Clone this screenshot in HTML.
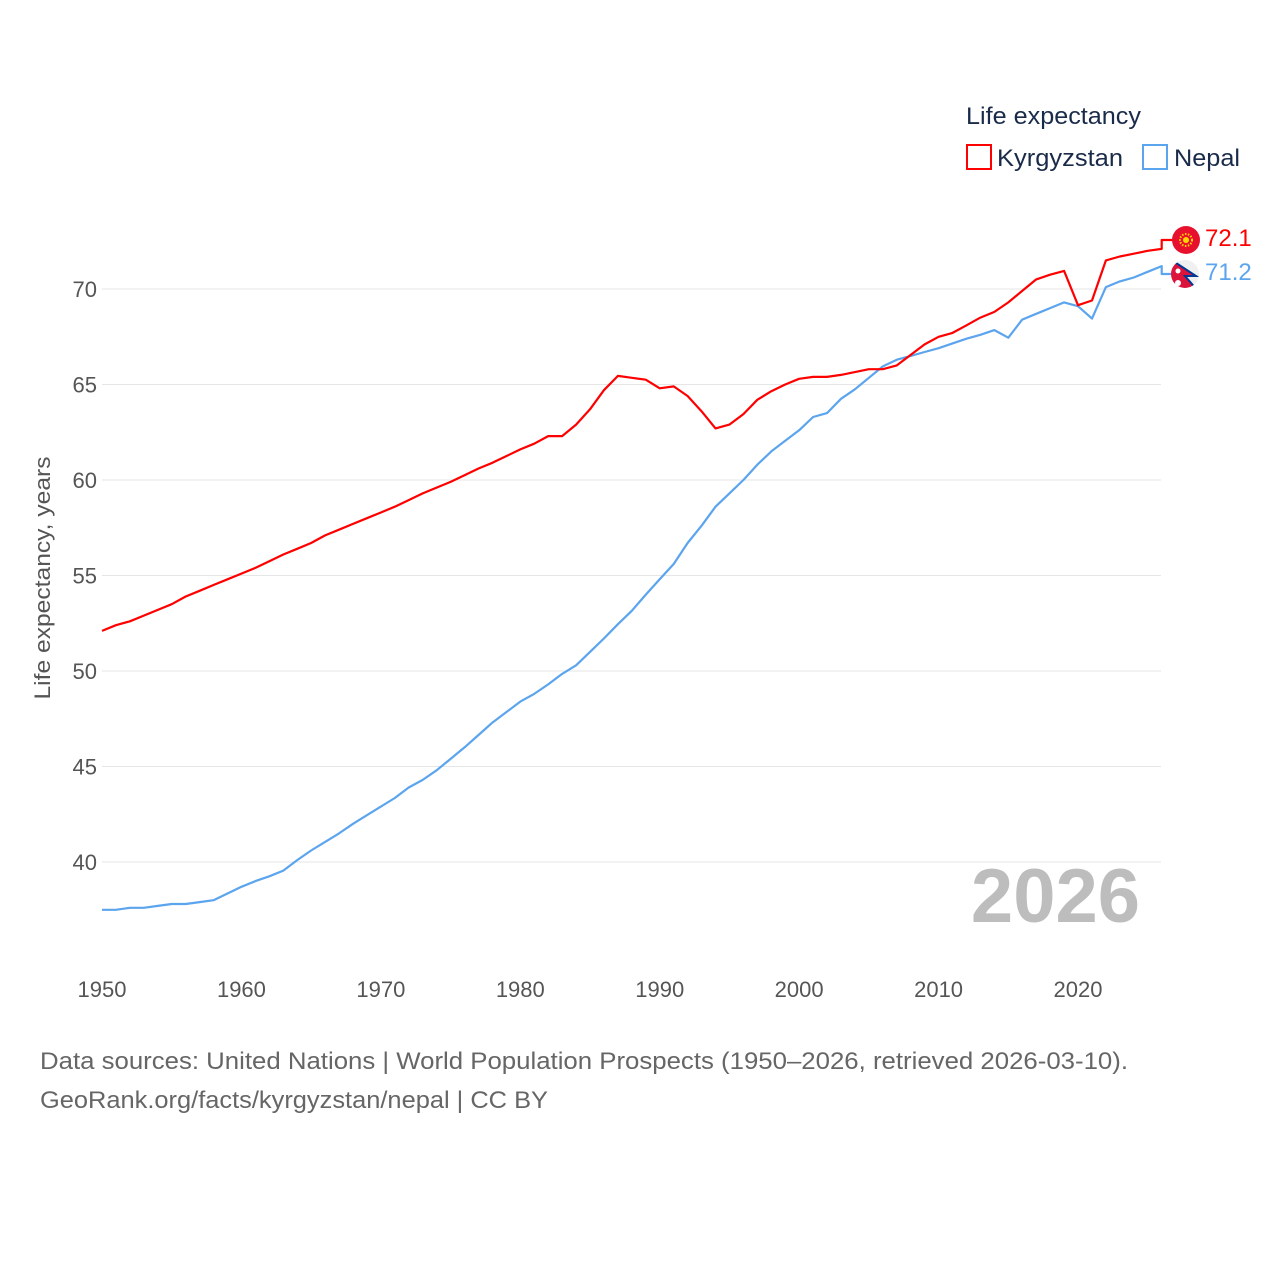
<!DOCTYPE html>
<html><head><meta charset="utf-8"><style>
html,body{margin:0;padding:0;background:#fff;}
body{width:1280px;height:1280px;overflow:hidden;font-family:"Liberation Sans",sans-serif;}
</style></head><body>
<svg id="chart" width="1280" height="1280" xmlns="http://www.w3.org/2000/svg" font-family="Liberation Sans, sans-serif">
<g id="grid"></g>
<g id="yticks"></g>
<g id="xticks"></g>
<text transform="translate(50,578) rotate(-90)" text-anchor="middle" font-size="22" fill="#555" textLength="243" lengthAdjust="spacingAndGlyphs">Life expectancy, years</text>
<text x="1140" y="922" text-anchor="end" font-size="76" font-weight="bold" fill="#bdbdbd">2026</text>
<g id="series"></g>
<g>
<text x="966" y="124" font-size="24" fill="#1a2b4a" textLength="175" lengthAdjust="spacingAndGlyphs">Life expectancy</text>
<rect x="967" y="145" width="24" height="24" fill="none" stroke="#ff0000" stroke-width="2"/>
<text x="997" y="166" font-size="24" fill="#1a2b4a" textLength="126" lengthAdjust="spacingAndGlyphs">Kyrgyzstan</text>
<rect x="1143" y="145" width="24" height="24" fill="none" stroke="#5ba4ee" stroke-width="2"/>
<text x="1174" y="166" font-size="24" fill="#1a2b4a" textLength="66" lengthAdjust="spacingAndGlyphs">Nepal</text>
</g>
<g>
<circle cx="1186" cy="240" r="14" fill="#e8112d"/>
<circle cx="1186" cy="240" r="6" fill="none" stroke="#ffd700" stroke-width="2" stroke-dasharray="1.5 1.5"/>
<circle cx="1186" cy="240" r="3" fill="#ffd700"/>
</g>
<g>
<clipPath id="nc"><circle cx="1185" cy="274" r="14"/></clipPath>
<circle cx="1185" cy="274" r="14" fill="#f0f0f0"/>
<polygon clip-path="url(#nc)" points="1170,259 1196,276 1185,276 1198,291 1170,291" fill="#dc143c" stroke="#003893" stroke-width="2"/>
<circle cx="1178" cy="271" r="2.5" fill="#fff"/><circle cx="1178" cy="283" r="3" fill="#fff"/>
</g>
<text x="1205" y="246" font-size="24" fill="#ff0000">72.1</text>
<text x="1205" y="280" font-size="24" fill="#5ba4ee">71.2</text>
<text x="40" y="1069" font-size="24" fill="#666" textLength="1088" lengthAdjust="spacingAndGlyphs">Data sources: United Nations | World Population Prospects (1950–2026, retrieved 2026-03-10).</text>
<text x="40" y="1108" font-size="24" fill="#666" textLength="508" lengthAdjust="spacingAndGlyphs">GeoRank.org/facts/kyrgyzstan/nepal | CC BY</text>
</svg>
<script>
const startYear = 1950;
const kyrgyzstan = [52.1,52.4,52.6,52.9,53.2,53.5,53.9,54.2,54.5,54.8,55.1,55.4,55.75,56.1,56.4,56.7,57.1,57.4,57.7,58.0,58.3,58.6,58.95,59.3,59.6,59.9,60.25,60.6,60.9,61.25,61.6,61.9,62.3,62.3,62.9,63.7,64.7,65.45,65.35,65.25,64.8,64.9,64.4,63.6,62.7,62.9,63.45,64.2,64.65,65.0,65.3,65.4,65.4,65.5,65.65,65.8,65.8,66.0,66.55,67.1,67.5,67.7,68.1,68.5,68.8,69.3,69.9,70.5,70.75,70.95,69.15,69.4,71.5,71.7,71.85,72.0,72.1];
const nepal = [37.5,37.5,37.6,37.6,37.7,37.8,37.8,37.9,38.0,38.35,38.7,39.0,39.25,39.55,40.1,40.6,41.05,41.5,42.0,42.45,42.9,43.35,43.9,44.3,44.8,45.4,46.0,46.65,47.3,47.85,48.4,48.8,49.3,49.85,50.3,51.0,51.7,52.45,53.15,54.0,54.8,55.6,56.7,57.6,58.6,59.3,60.0,60.8,61.5,62.05,62.6,63.3,63.5,64.25,64.75,65.35,65.95,66.3,66.5,66.7,66.9,67.15,67.4,67.6,67.85,67.45,68.4,68.7,69.0,69.3,69.1,68.45,70.1,70.4,70.6,70.9,71.2];
const yTicks = [40,45,50,55,60,65,70];
const xTicks = [1950,1960,1970,1980,1990,2000,2010,2020];

const NS = "http://www.w3.org/2000/svg";
const xS = yr => 102 + (yr - 1950) * 13.943;
const yS = v => 289 + (70 - v) * 19.1;
function mk(tag, attrs, parent){const e=document.createElementNS(NS,tag);for(const k in attrs)e.setAttribute(k,attrs[k]);parent.appendChild(e);return e;}

const grid=document.getElementById('grid'), yt=document.getElementById('yticks'), xt=document.getElementById('xticks');
yTicks.forEach(v=>{
  const l=mk('line',{x1:102,x2:1161,y1:yS(v),y2:yS(v),stroke:'#e6e6e6','stroke-width':1},grid);
  
  
  const t=mk('text',{x:97,y:yS(v)+8,'text-anchor':'end','font-size':22,fill:'#555'},yt);
  t.textContent=v;
  
  
});
xTicks.forEach(yr=>{
  const t=mk('text',{x:xS(yr),y:997,'text-anchor':'middle','font-size':22,fill:'#555'},xt);
  t.textContent=yr;
  
  
});
const sg=document.getElementById('series');
function line(arr,color,name,endY){
  let d=arr.map((v,i)=>(i?'L':'M')+xS(startYear+i).toFixed(1)+','+yS(v).toFixed(1)).join(' ');
  const lx=xS(startYear+arr.length-1);
  d+=' L'+lx.toFixed(1)+','+endY+' L'+(lx+11)+','+endY;
  const p=mk('path',{d:d,fill:'none',stroke:color,'stroke-width':2.2,'stroke-linejoin':'round'},sg);
  
  
}
line(nepal,'#5ba4ee','line-nepal',274);
line(kyrgyzstan,'#ff0000','line-kyrgyzstan',240);
</script>
</body></html>
